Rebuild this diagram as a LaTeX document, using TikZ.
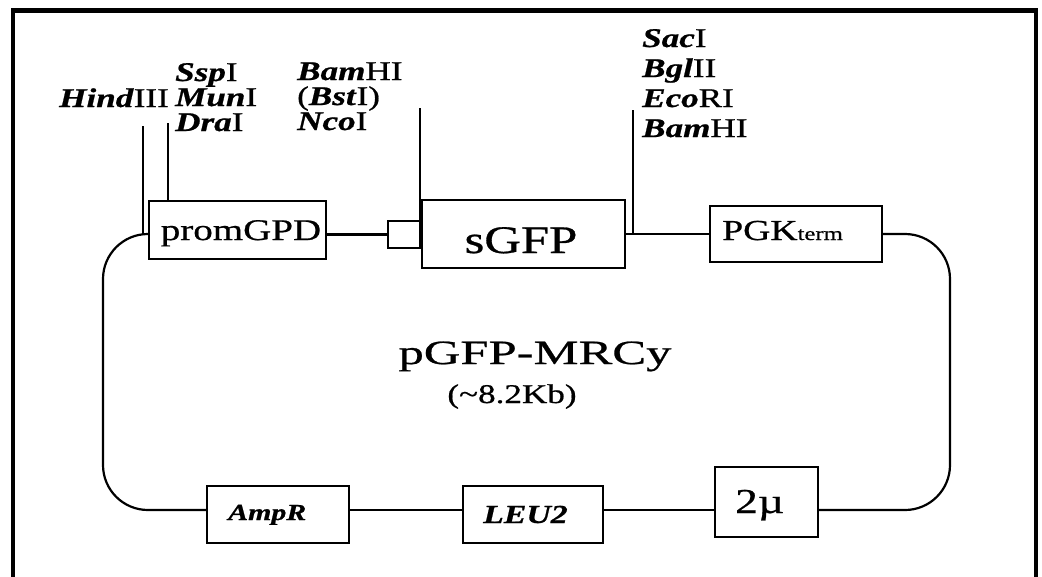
\documentclass[tikz,border=0pt]{standalone}
\usepackage{fontspec}
\setmainfont{Liberation Serif}[FakeStretch=1.3,
  UprightFeatures={FakeBold=0.7},
  BoldItalicFeatures={FakeBold=0.8}]
\newcommand{\bi}[1]{\textbf{\textit{#1}}}
\newcommand{\fsz}[1]{\fontsize{#1}{#1}\selectfont}
\begin{document}
\begin{tikzpicture}[x=1pt,y=-1pt,
  box/.style={draw, line width=2.2pt, inner sep=0pt, minimum width=#1},
  plas/.style={line width=2.2pt},
  site/.style={line width=1.8pt},
  lbl/.style={inner sep=0pt, anchor=base west, font=\fsz{27}},
  frame/.style={line width=4.5pt}]
\useasboundingbox (0,0) rectangle (1042,576);
\clip (0,0) rectangle (1042,576);
\fill[white] (0,0) rectangle (1042,576);
% frame
\coordinate (fbl) at (13,590);
\coordinate (ftl) at (13,10.5);
\coordinate (ftr) at (1036,10.5);
\coordinate (fbr) at (1036,590);
\draw[frame] (fbl) -- (ftl) -- (ftr) -- (fbr);
% helper levels
\coordinate (topy) at (0,234);
\coordinate (lowy) at (0,510);
% boxes
\node[box=177, minimum height=58] (gpd) at (237.5,230) {};
\node[box=33, minimum height=27] (sq) at (404.5,234.5) {};
\node[box=203, minimum height=68] (gfp) at (523.5,234) {};
\node[box=172, minimum height=56] (pgk) at (796,234) {};
\node[box=142, minimum height=57] (amp) at (278,514.5) {};
\node[box=140, minimum height=57] (leu) at (533,514.5) {};
\node[box=103, minimum height=70] (two) at (766.5,502) {};
% box texts
\node[inner sep=0pt, anchor=base, font=\fsz{30}] (gpdt) at (241,240) {promGPD};
\node[inner sep=0pt, anchor=base, font=\fsz{39}] (gfpt) at (521,253) {sGFP};
\node[inner sep=0pt, anchor=base west, font=\fsz{29}] (pgkt) at (722,240) {PGK{\fsz{19}term}};
\node[inner sep=0pt, anchor=base west, font=\fsz{23}] (ampt) at (228,520) {\bi{AmpR}};
\node[inner sep=0pt, anchor=base west, font=\fsz{26}] (leut) at (483,523) {\bi{LEU2}};
\node[inner sep=0pt, anchor=base west, font=\fsz{35}] (twot) at (735,513) {2µ};
% title
\node[inner sep=0pt, anchor=base, font=\fsz{34}] (title) at (535,364) {\resizebox{273pt}{\height}{pGFP-MRCy}};
\node[inner sep=0pt, anchor=base, font=\fsz{27}] (size) at (512,403) {(\textasciitilde8.2Kb)};
% plasmid connectors
\coordinate (tl) at (103,234);
\coordinate (bl) at (103,510);
\coordinate (tr) at (950,234);
\coordinate (br) at (950,510);
\draw[plas] (gpd.east |- sq.west) -- (sq.west);
\draw[plas] (gfp.east) -- (pgk.west);
\draw[plas] (amp.east |- lowy) -- (leu.west |- lowy);
\draw[plas] (leu.east |- lowy) -- (two.west |- lowy);
\draw[plas, rounded corners=45pt] (gpd.west |- topy) -- (tl) -- (bl) -- (amp.west |- lowy);
\draw[plas, rounded corners=45pt] (pgk.east) -- (tr) -- (br) -- (two.east |- lowy);
% restriction site lines
\coordinate (hindtop) at (143,126);
\coordinate (ssptop) at (168,123);
\coordinate (bamtop) at (420,108);
\coordinate (sactop) at (633,110);
\draw[site] (hindtop) -- (hindtop |- topy);
\draw[site] (ssptop) -- (ssptop |- gpd.north);
\draw[site] (bamtop) -- (bamtop |- sq.south);
\draw[site] (sactop) -- (sactop |- gfp.east);
% labels
\node[lbl] (hind) at (59,107) {\bi{Hind}III};
\node[lbl] (ssp) at (175,81) {\bi{Ssp}I};
\node[lbl] (mun) at (175,106) {\bi{Mun}I};
\node[lbl] (dra) at (175,131) {\bi{Dra}I};
\node[lbl] (bam1) at (297,80) {\bi{Bam}HI};
\node[lbl] (bst) at (297,105) {(\bi{Bst}I)};
\node[lbl] (nco) at (297,130) {\bi{Nco}I};
\node[lbl] (sac) at (642,47) {\bi{Sac}I};
\node[lbl] (bgl) at (642,77) {\bi{Bgl}II};
\node[lbl] (eco) at (642,107) {\bi{Eco}RI};
\node[lbl] (bam2) at (642,137) {\bi{Bam}HI};
\end{tikzpicture}
\end{document}
